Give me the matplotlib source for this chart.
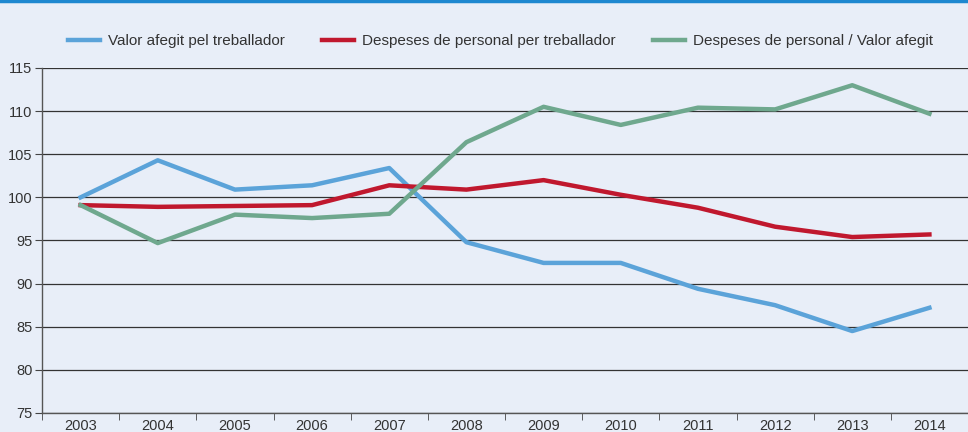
import numpy as np
import matplotlib.pyplot as plt
from matplotlib import font_manager

# Years and index values (2003 = ~100)
years = ["2003", "2004", "2005", "2006", "2007", "2008",
         "2009", "2010", "2011", "2012", "2013", "2014"]
valor_afegit = [100.0, 104.3, 100.9, 101.4, 103.4, 94.8,
                92.4, 92.4, 89.4, 87.5, 84.5, 87.2]
despeses_treb = [99.1, 98.9, 99.0, 99.1, 101.4, 100.9,
                 102.0, 100.3, 98.8, 96.6, 95.4, 95.7]
despeses_valor = [99.1, 94.7, 98.0, 97.6, 98.1, 106.4,
                  110.5, 108.4, 110.4, 110.2, 113.0, 109.7]

names = [f.name for f in font_manager.fontManager.ttflist]
family = "Liberation Sans Narrow" if "Liberation Sans Narrow" in names else "Liberation Sans"
plt.rcParams["font.family"] = [family, "DejaVu Sans"]

bg = "#e8eef8"
fig = plt.figure(figsize=(9.68, 4.32), dpi=100, facecolor=bg)
ax = fig.add_axes([0.0434, 0.044, 0.9566, 0.7986], facecolor=bg)

x = np.arange(len(years))
ax.plot(x, valor_afegit, color="#5ba3d9", lw=3.2, label="Valor afegit pel treballador")
ax.plot(x, despeses_treb, color="#c0182e", lw=3.2, label="Despeses de personal per treballador")
ax.plot(x, despeses_valor, color="#6fa88e", lw=3.2, label="Despeses de personal / Valor afegit")

ax.set_xlim(-0.5, 11.5)
ax.set_ylim(75, 115)
ax.set_yticks(range(75, 116, 5))
ax.set_xticks(x)
ax.set_xticklabels(years)
ax.set_xticks(np.arange(-0.5, 11.6, 1), minor=True)
ax.tick_params(axis="x", which="major", length=0, labelsize=10.5, colors="#333333", pad=4)
ax.tick_params(axis="x", which="minor", length=5, color="#444444", direction="out")
ax.tick_params(axis="y", length=5, labelsize=10.5, colors="#333333", pad=2)
ax.tick_params(axis="y", color="#444444")

ax.grid(axis="y", color="#333333", lw=0.9)
ax.set_axisbelow(True)
for s in ["top", "right"]:
    ax.spines[s].set_visible(False)
for s in ["left", "bottom"]:
    ax.spines[s].set_color("#555555")
    ax.spines[s].set_linewidth(1.0)

fig.legend(loc="center", bbox_to_anchor=(0.517, 0.905), ncol=3, frameon=False,
           fontsize=11, handlelength=2.1, columnspacing=2.4, handletextpad=0.55,
           labelcolor="#333333")

# thin blue rule at the top
fig.add_artist(plt.Line2D([0, 1], [0.997, 0.997], color="#1e88d0", lw=2.5,
                          transform=fig.transFigure))

fig.savefig("out.png", dpi=100, facecolor=bg)
